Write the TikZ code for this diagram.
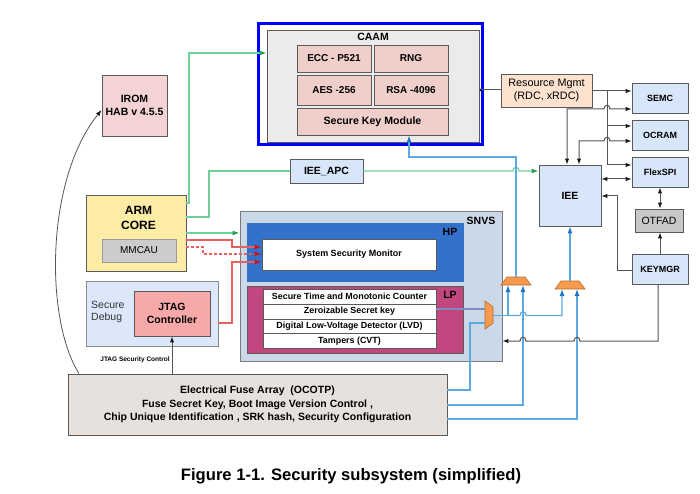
\documentclass[tikz,border=0pt]{standalone}
\usepackage{fontspec}
\setmainfont{Liberation Sans}
\usetikzlibrary{arrows.meta,calc}
\definecolor{caamgray}{HTML}{EBEBEB}
\definecolor{subpink}{HTML}{F0CECA}
\definecolor{iromfill}{HTML}{F3D3D3}
\definecolor{armfill}{HTML}{FDECA6}
\definecolor{mmfill}{HTML}{CCCCCC}
\definecolor{sdfill}{HTML}{DCE8FA}
\definecolor{jtagfill}{HTML}{F7A8A8}
\definecolor{snvsfill}{HTML}{CAD8E8}
\definecolor{hpfill}{HTML}{3272CB}
\definecolor{lpfill}{HTML}{C2467F}
\definecolor{lblue}{HTML}{D8E6FA}
\definecolor{rmfill}{HTML}{FCE2CF}
\definecolor{otfill}{HTML}{C8C8C8}
\definecolor{fusefill}{HTML}{E6E1DD}
\definecolor{muxfill}{HTML}{F79A4E}
\definecolor{muxdraw}{HTML}{B86A30}
\definecolor{boxgray}{HTML}{5A5A5A}
\definecolor{grnline}{HTML}{70D09A}
\definecolor{grntip}{HTML}{20A050}
\definecolor{blline}{HTML}{5BAAE0}
\definecolor{bltip}{HTML}{1E74C8}
\definecolor{rdline}{HTML}{E86060}
\definecolor{rdtip}{HTML}{CC1010}
\definecolor{blkline}{HTML}{555555}
\definecolor{blktip}{HTML}{1A1A1A}
\begin{document}
\begin{tikzpicture}[x=1pt,y=-1pt,
  box/.style={draw=boxgray, line width=0.9pt, inner sep=0pt, align=center,
    font=\bfseries\fontsize{10.5}{12.5}\selectfont},
  pk/.style={box, fill=subpink, font=\bfseries\fontsize{10}{12}\selectfont},
  lb/.style={box, fill=lblue},
  rcol/.style={lb, minimum width=56pt, minimum height=30pt, font=\bfseries\fontsize{9}{11}\selectfont},
  lprow/.style={draw=boxgray, line width=0.7pt, fill=white, inner sep=0pt,
    minimum width=173pt, minimum height=15pt, font=\bfseries\fontsize{8.9}{10}\selectfont},
  lbl/.style={inner sep=0pt, font=\bfseries\fontsize{10.5}{12.5}\selectfont},
  grnln/.style={draw=grnline, line width=1.1pt},
  grnarr/.style={grnln, -{Latex[length=7pt,width=5pt,color=grntip]}},
  blln/.style={draw=blline, line width=1.1pt},
  blarr/.style={blln, -{Latex[length=7pt,width=5pt,color=bltip]}},
  rdln/.style={draw=rdline, line width=1.1pt},
  rdarr/.style={rdln, -{Latex[length=7pt,width=5pt,color=rdtip]}},
  blkln/.style={draw=blkline, line width=1pt},
  blkarr/.style={blkln, -{Latex[length=6pt,width=4.5pt,color=blktip]}},
  blkdbl/.style={blkln, {Latex[length=6pt,width=4.5pt,color=blktip]}-{Latex[length=6pt,width=4.5pt,color=blktip]}},
  muxshape/.style={fill=muxfill, draw=muxdraw, line width=0.6pt}
]
\useasboundingbox (0,0) rectangle (700,494);
\fill[white] (0,0) rectangle (700,494);

% ---------- CAAM ----------
\node[draw=blue, line width=3pt, minimum width=224pt, minimum height=121pt, inner sep=0pt] (caamo) at (370.5,84) {};
\node[box, fill=caamgray, minimum width=212pt, minimum height=112pt] (caam) at (373,86) {};
\node[lbl] (caamlbl) at (373,37) {CAAM};
\node[pk, minimum width=74pt, minimum height=27pt] (ecc) at (334,58.5) {ECC - P521};
\node[pk, minimum width=74pt, minimum height=27pt] (rng) at (411,58.5) {RNG};
\node[pk, minimum width=74pt, minimum height=30pt] (aes) at (334,90) {AES -256};
\node[pk, minimum width=74pt, minimum height=30pt] (rsa) at (411,90) {RSA -4096};
\node[pk, minimum width=151pt, minimum height=27pt, font=\bfseries\fontsize{10.6}{12}\selectfont] (skm) at (372.5,121.5) {Secure Key Module};

% ---------- right column ----------
\node[box, fill=rmfill, minimum width=91pt, minimum height=33pt, font=\fontsize{10.8}{12.5}\selectfont] (rm) at (546.5,90.5) {Resource Mgmt\\(RDC, xRDC)};
\node[rcol] (semc) at (660,98) {SEMC};
\node[rcol] (ocram) at (660,135) {OCRAM};
\node[rcol] (flex) at (660,172) {FlexSPI};
\node[lb, minimum width=62pt, minimum height=61pt] (iee) at (570,195.5) {IEE};
\node[box, fill=otfill, minimum width=48pt, minimum height=23pt, font=\fontsize{10.5}{12.5}\selectfont] (otfad) at (659,220.5) {OTFAD};
\node[rcol] (keymgr) at (660,269) {KEYMGR};
\node[lb, minimum width=73pt, minimum height=24pt] (ieeapc) at (326.5,171) {IEE\_APC};

% ---------- left side ----------
\node[box, fill=iromfill, minimum width=65pt, minimum height=61pt] (irom) at (134.5,105.5) {IROM\\HAB v 4.5.5};
\node[box, fill=armfill, minimum width=100pt, minimum height=76pt] (arm) at (136,233) {};
\node[inner sep=0pt, align=center, font=\bfseries\fontsize{12}{15}\selectfont] (armlbl) at (138.5,218) {ARM\\CORE};
\node[draw=black!40, line width=0.9pt, fill=mmfill, minimum width=74pt, minimum height=23pt, inner sep=0pt, font=\fontsize{10}{12}\selectfont] (mmcau) at (139,250.5) {MMCAU};
\node[box, fill=sdfill, draw=black!45, minimum width=132pt, minimum height=65pt] (sdbg) at (152,313.5) {};
\node[inner sep=0pt, anchor=west, align=left, text=black!80, font=\fontsize{10.5}{12}\selectfont] (sdlbl) at (91,312) {Secure\\Debug};
\node[box, fill=jtagfill, minimum width=76pt, minimum height=45pt] (jtag) at (172,313.5) {JTAG\\Controller};
\node[inner sep=0pt, font=\bfseries\fontsize{6.5}{7.5}\selectfont] (jsc) at (135,360) {JTAG Security Control};

% ---------- SNVS ----------
\node[box, fill=snvsfill, draw=boxgray!80, minimum width=262pt, minimum height=150pt] (snvs) at (371,286) {};
\node[lbl] (snvslbl) at (481,221) {SNVS};
\node[box, fill=hpfill, draw=hpfill, minimum width=216pt, minimum height=58pt] (hp) at (355,252) {};
\node[lbl] (hplbl) at (450,232) {HP};
\node[box, fill=white, minimum width=174pt, minimum height=31pt, font=\bfseries\fontsize{9}{11}\selectfont] (ssm) at (349,254.5) {System Security Monitor};
\node[box, fill=lpfill, draw=boxgray, minimum width=216pt, minimum height=67pt] (lp) at (355,319.5) {};
\node[lbl] (lplbl) at (450,295) {LP};
\node[lprow] (r1) at (349.5,296.5) {Secure Time and Monotonic Counter};
\node[lprow] (r2) at (349.5,311.5) {Zeroizable Secret key};
\node[lprow] (r3) at (349.5,326.5) {Digital Low-Voltage Detector (LVD)};
\node[lprow] (r4) at (349.5,341) {Tampers (CVT)};

% ---------- Fuse ----------
\node[box, fill=fusefill, minimum width=379pt, minimum height=61pt, font=\bfseries\fontsize{10.5}{13.2}\selectfont] (fuse) at (257.5,404.5)
  {Electrical Fuse Array\ \ (OCOTP)\\Fuse Secret Key, Boot Image Version Control ,\\Chip Unique Identification , SRK hash, Security Configuration};

% ---------- Caption ----------
\node[inner sep=0pt, font=\bfseries\fontsize{16.6}{19}\selectfont] (cap) at (351,476) {Figure 1-1. Security subsystem (simplified)};

% ---------- Muxes ----------
\filldraw[muxshape] (485,301) -- (493,307) -- (493,323) -- (485,329) -- cycle;
\coordinate (m0in1) at (485,309);
\coordinate (m0in2) at (485,323);
\coordinate (m0out) at (493,315.5);
\filldraw[muxshape] (507,277) -- (525,277) -- (531,285) -- (501,285) -- cycle;
\coordinate (m1out) at (516,277);
\coordinate (m1inA) at (508,285);
\coordinate (m1inB) at (523,285);
\filldraw[muxshape] (561,281) -- (579,281) -- (585,289) -- (555,289) -- cycle;
\coordinate (m2out) at (570,281);
\coordinate (m2inA) at (562,289);
\coordinate (m2inB) at (577,289);

% ---------- Green connectors ----------
\draw[grnarr] (arm.east |- 0,203) -- (189,203) -- (189,53) -- (caam.west |- 0,53);
\draw[grnln] (arm.east |- 0,217) -- (209,217) -- (209,171) -- (ieeapc.west);
\draw[grnarr] (ieeapc.east) -- (513,171) .. controls (513,166) and (519,166) .. (519,171) -- (iee.west |- 0,171);
\draw[grnarr] (arm.east |- 0,233) -- (snvs.west |- 0,233);

% ---------- Red connectors ----------
\draw[rdarr] (arm.east |- 0,240) -- (232,240) -- (232,247) -- (ssm.west |- 0,247);
\draw[rdarr, dashed, dash pattern=on 3pt off 2pt] (arm.east |- 0,247) -- (203,247) -- (203,254) -- (ssm.west |- 0,254);
\draw[rdarr] (sdbg.east |- 0,323) -- (232,323) -- (232,262) -- (ssm.west |- 0,262);

% ---------- Blue connectors ----------
\draw[blarr] (m1out) -- (516,157) -- (409,157) -- (skm.south -| 409,0);
\draw[blarr] (m2out) -- (iee.south -| m2out);
\draw[blln, draw=blline!70!lpfill] (r2.east |- 0,309) -- (m0in1);
\draw[blarr] (m0out) -- (508,315.5) -- (m1inA);
\draw[blarr] (508,315.5) -- (520,315.5) .. controls (520,310.5) and (526,310.5) .. (526,315.5) -- (562,315.5) -- (m2inA);
\draw[blln] (fuse.east |- 0,390) -- (470,390) -- (470,323) -- (m0in2);
\draw[blarr] (fuse.east |- 0,405) -- (523,405) -- (m1inB);
\draw[blarr] (fuse.east |- 0,419) -- (577,419) -- (m2inB);

% ---------- Black connectors ----------
\fill[blktip] (481,90) circle (1.6pt);
\draw[blkln] (481,90) -- (rm.west |- 0,90);
\draw[blkarr] (rm.east |- 0,91) -- (semc.west |- 0,91);
\draw[blkarr] (607,91) -- (607,165) -- (flex.west |- 0,165);
\draw[blkarr] (607,126) -- (ocram.west |- 0,126);
\draw[blkdbl] (iee.north -| 567,0) -- (567,109) -- (604,109) .. controls (604,104) and (610,104) .. (610,109) -- (semc.west |- 0,109);
\draw[blkdbl] (iee.north -| 579,0) -- (579,141) -- (604,141) .. controls (604,136) and (610,136) .. (610,141) -- (ocram.west |- 0,141);
\draw[blkdbl] (iee.east |- 0,179) -- (flex.west |- 0,179);
\draw[blkdbl] (flex.south -| 660,0) -- (otfad.north -| 660,0);
\draw[blkarr] (keymgr.north -| 660,0) -- (otfad.south -| 660,0);
\draw[blkarr] (keymgr.west |- 0,270) -- (617,270) -- (617,196) -- (iee.east |- 0,196);
\draw[blkarr] (keymgr.south -| 658,0) -- (658,341) -- (580,341) .. controls (580,336) and (574,336) .. (574,341) -- (526,341) .. controls (526,336) and (520,336) .. (520,341) -- (snvs.east |- 0,341);
\draw[blkarr] (fuse.north -| 172,0) -- (jtag.south -| 172,0);
\draw[blkarr, line width=0.8pt] (fuse.north -| 79,0) .. controls (45,320) and (45,180) .. (irom.west |- 0,110);
\end{tikzpicture}
\end{document}
